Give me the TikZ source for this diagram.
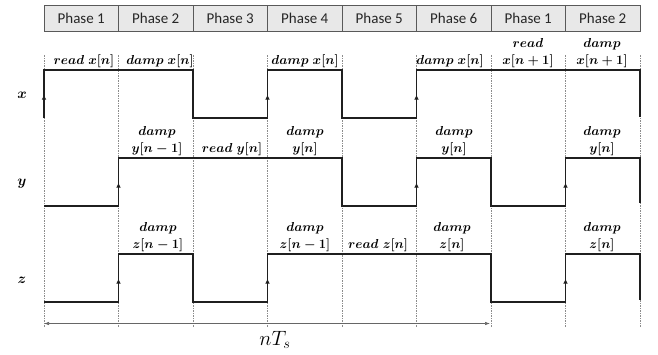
\documentclass[tikz,border=0pt]{standalone}
\usepackage{fontspec}
\newfontfamily\phasefont{Carlito}
\usetikzlibrary{arrows.meta}
\begin{document}
\begin{tikzpicture}[x=1pt,y=-1pt,
  phasebox/.style={draw=black!65,fill=black!9,line width=0.8pt,minimum width=74.5pt,minimum height=26pt,inner sep=0pt,font=\phasefont\fontsize{15}{17}\selectfont,text=black!85},
  guide/.style={draw=black!45,line width=0.55pt,dash pattern=on 2pt off 1.2pt on 0.6pt off 1.2pt},
  wave/.style={draw=black!88,line width=1.5pt,line join=miter},
  rise/.style={draw=black!88,line width=0.8pt,-{Latex[length=4.5pt,width=4.6pt]}},
  lbl/.style={anchor=south,align=center,inner sep=1pt,scale=0.9,transform shape,font=\boldmath\fontsize{14.4}{19}\selectfont},
  sig/.style={font=\boldmath\fontsize{14.4}{16}\selectfont},
  span/.style={draw=black!60,line width=0.7pt,{Latex[length=5pt,width=3.5pt]}-{Latex[length=5pt,width=3.5pt]}}]
\useasboundingbox (0,0) rectangle (658,354);

% phase header
\foreach \i/\t in {1/Phase 1,2/Phase 2,3/Phase 3,4/Phase 4,5/Phase 5,6/Phase 6,7/Phase 1,8/Phase 2}
  \node[phasebox] (p\i) at ({44+74.5*(\i-0.5)},18) {\t};

% phase boundaries
\foreach \i in {0,...,8}
  \draw[guide] ({44+74.5*\i},55) -- ({44+74.5*\i},328);

% signal names
\node[sig] (nx) at (22,95) {$x$};
\node[sig] (ny) at (22,184) {$y$};
\node[sig] (nz) at (22,280) {$z$};

% x waveform (high 70, low 118)
\draw[wave] (44,118) -- (44,70) -- (193,70) -- (193,118) -- (267.5,118) -- (267.5,70)
  -- (342,70) -- (342,118) -- (416.5,118) -- (416.5,70) -- (640,70) -- (640,117);
\foreach \xx in {44,267.5,416.5} \draw[rise] (\xx,102) -- (\xx,95);

% y waveform (high 158, low 206)
\draw[wave] (44,206) -- (118.5,206) -- (118.5,158) -- (342,158) -- (342,206) -- (416.5,206)
  -- (416.5,158) -- (491,158) -- (491,206) -- (565.5,206) -- (565.5,158) -- (640,158) -- (640,203);
\foreach \xx in {118.5,416.5,565.5} \draw[rise] (\xx,190) -- (\xx,183);

% z waveform (high 254, low 302)
\draw[wave] (44,302) -- (118.5,302) -- (118.5,254) -- (193,254) -- (193,302) -- (267.5,302)
  -- (267.5,254) -- (491,254) -- (491,302) -- (565.5,302) -- (565.5,254) -- (640,254) -- (640,300);
\foreach \xx in {118.5,267.5,565.5} \draw[rise] (\xx,286) -- (\xx,279);

% x labels
\node[lbl] (lx1) at (84,69) {$read\;x[n]$};
\node[lbl] (lx2) at (160,69) {$damp\;x[n]$};
\node[lbl] (lx4) at (305,69) {$damp\;x[n]$};
\node[lbl] (lx6) at (450,69) {$damp\;x[n]$};
\node[lbl] (lx7) at (528,69) {$read$\\$x[n+1]$};
\node[lbl] (lx8) at (602,69) {$damp$\\$x[n+1]$};

% y labels
\node[lbl] (ly2) at (157,157) {$damp$\\$y[n-1]$};
\node[lbl] (ly3) at (232,157) {$read\;y[n]$};
\node[lbl] (ly4) at (305,157) {$damp$\\$y[n]$};
\node[lbl] (ly6) at (454,157) {$damp$\\$y[n]$};
\node[lbl] (ly8) at (602,157) {$damp$\\$y[n]$};

% z labels
\node[lbl] (lz2) at (158,253) {$damp$\\$z[n-1]$};
\node[lbl] (lz4) at (305,253) {$damp$\\$z[n-1]$};
\node[lbl] (lz5) at (378,253) {$read\;z[n]$};
\node[lbl] (lz6) at (452,253) {$damp$\\$z[n]$};
\node[lbl] (lz8) at (602,253) {$damp$\\$z[n]$};

% one sample period
\coordinate (s0) at (44,323.5);
\coordinate (s1) at (490,323.5);
\draw[span] (s0) -- (s1);
\node[font=\fontsize{20.74}{22}\selectfont] (nts) at (275,340) {$nT_s$};
\end{tikzpicture}
\end{document}
